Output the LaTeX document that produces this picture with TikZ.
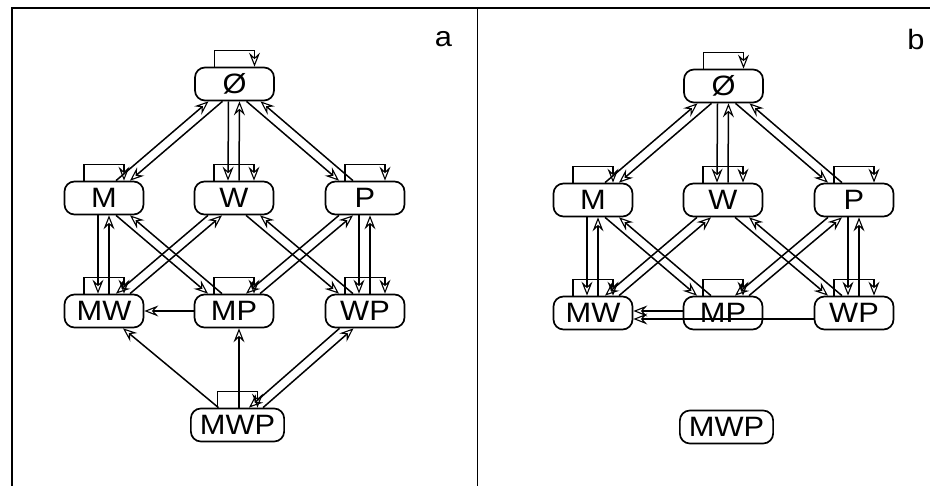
\documentclass[tikz,border=0pt]{standalone}
\usepackage{fontspec}
\setmainfont{Liberation Sans}[FakeStretch=1.1]
\usetikzlibrary{arrows.meta,calc}
\tikzset{
  st/.style={draw, line width=1.7pt, rounded corners=10pt, minimum width=79pt,
    minimum height=33pt, inner xsep=9pt, inner ysep=0pt,
    font=\fontsize{28}{30}\selectfont, text height=20pt, text depth=0pt},
  arr/.style={-{Stealth[open,length=14pt,width=11pt,inset=5pt,line width=1.1pt]}, line width=1.5pt},
  frameline/.style={line width=1.7pt},
  plabel/.style={font=\fontsize{28}{30}\selectfont, inner sep=0pt}
}
\newcommand\selfloop[1]{\draw[arr] ($(#1.north)+(-20,0)$) -- ++(0,-16) -| ($(#1.north)+(20,0)$);}
% #1 upper, #2 lower, #3 horizontal offset at upper bottom, #4 shift of the downward line
\newcommand\dpair[4]{%
  \draw[arr] ($(#1.south)+({(#3)+(#4)},0)$) -- ($(#2.north)+({-(#3)+(#4)},0)$);
  \draw[arr] ($(#2.north)+({-(#3)-(#4)},0)$) -- ($(#1.south)+({(#3)-(#4)},0)$);}
\newcommand\vpair[2]{%
  \draw[arr] ($(#1.south)+(-6,0)$) -- ($(#2.north)+(-6,0)$);
  \draw[arr] ($(#2.north)+(5,0)$) -- ($(#1.south)+(5,0)$);}
\newcommand\lattice[1]{%
  \node[st] (#1E) at (234.5,84) {Ø};
  \node[st] (#1M) at (104,198) {M};
  \node[st] (#1W) at (234,198) {W};
  \node[st] (#1P) at (365,198) {P};
  \node[st] (#1MW) at (104,311) {MW};
  \node[st] (#1MP) at (234,311) {MP};
  \node[st] (#1WP) at (365,311) {WP};
  \node[st] (#1MWP) at (237.5,425) {MWP};
  \foreach \n in {E,M,W,P,MW,MP,WP} {\selfloop{#1\n}}
  \dpair{#1E}{#1M}{-19}{7}
  \vpair{#1E}{#1W}
  \dpair{#1E}{#1P}{19}{-7}
  \vpair{#1M}{#1MW}
  \dpair{#1M}{#1MP}{19}{-7}
  \dpair{#1W}{#1MW}{-19}{-7}
  \dpair{#1W}{#1WP}{19}{-7}
  \dpair{#1P}{#1MP}{-19}{-7}
  \vpair{#1P}{#1WP}
}
\begin{document}
\begin{tikzpicture}[x=1pt,y=-1pt]
\useasboundingbox (0,0) rectangle (930,486);
\draw[frameline] (12,486) -- (12,8) -- (930,8);
\draw[frameline] (477.5,8) -- (477.5,486);
% panel a
\begin{scope}
  \lattice{a}
  \selfloop{aMWP}
  \draw[arr] (aMP.west) -- (aMW.east);
  \draw[arr] ($(aMWP.north)+(-19,0)$) -- ($(aMW.south)+(19,0)$);
  \draw[arr] ($(aMP.south |- aMWP.north)+(5,0)$) -- ($(aMP.south)+(5,0)$);
  \dpair{aWP}{aMWP}{-18.5}{-7}
\end{scope}
\node[plabel] (la) at (443.5,39.5) {a};
% panel b
\begin{scope}[shift={(489,2)}]
  \lattice{b}
  \draw[arr] ($(bMP.west)+(0,-2)$) -- ($(bMW.east)+(0,-2)$);
  \draw[arr] ($(bWP.west)+(0,6)$) -- ($(bMW.east)+(0,6)$);
\end{scope}
\node[plabel] (lb) at (916,39) {b};
\end{tikzpicture}
\end{document}
